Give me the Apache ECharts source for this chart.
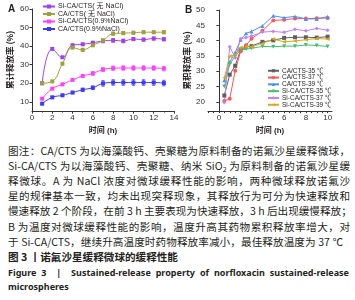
<!DOCTYPE html>
<html><head><meta charset="utf-8">
<script src="https://cdn.jsdelivr.net/npm/echarts@6/dist/echarts.min.js"></script>
<style>
html,body{margin:0;padding:0;background:#fff;width:355px;height:300px;overflow:hidden;}
#chart{position:absolute;left:0;top:0;width:355px;height:140px;}
.cap{position:absolute;left:8px;height:15px;line-height:15px;font-family:"Noto Sans CJK SC","Noto Sans",sans-serif;font-size:10.6px;color:#231f20;white-space:nowrap;text-align:justify;text-align-last:justify;}
.b{font-weight:bold;}
.en{font-family:"Noto Sans","Noto Sans CJK SC",sans-serif;font-weight:bold;font-size:9px;}
sub{font-size:7px;line-height:0;vertical-align:-2px;}
</style>
</head><body>
<div id="chart"></div>
<div class="cap" style="top:143px;width:342px;">图注：CA/CTS 为以海藻酸钙、壳聚糖为原料制备的诺氟沙星缓释微球，</div>
<div class="cap" style="top:158px;width:342px;">Si-CA/CTS 为以海藻酸钙、壳聚糖、纳米 SiO<sub>2</sub> 为原料制备的诺氟沙星缓</div>
<div class="cap" style="top:173px;width:342px;">释微球。A 为 NaCl 浓度对微球缓释性能的影响，两种微球释放诺氟沙</div>
<div class="cap" style="top:188px;width:342px;">星的规律基本一致，均未出现突释现象，其释放行为可分为快速释放和</div>
<div class="cap" style="top:203px;width:342px;">慢速释放 2 个阶段，在前 3 h 主要表现为快速释放，3 h 后出现缓慢释放；</div>
<div class="cap" style="top:219px;width:342px;">B 为温度对微球缓释性能的影响，温度升高其药物累积释放率增大，对</div>
<div class="cap" style="top:234px;width:335px;">于 Si-CA/CTS，继续升高温度时药物释放率减小，最佳释放温度为 37 ℃</div>
<div class="cap b" style="top:249px;text-align:left;text-align-last:left;">图 3 丨诺氟沙星缓释微球的缓释性能</div>
<div class="cap en" style="top:265px;width:341px;">Figure 3 &nbsp;|&nbsp; Sustained-release property of norfloxacin sustained-release</div>
<div class="cap en" style="top:279px;text-align:left;text-align-last:left;">microspheres</div>
<script>
// ---- Panel A data (NaCl) ----
var A_time = [1,2,3,4,5,6,7,8,9,10,11,12,13];
var A_names = ['Si-CA/CTS( 无 NaCl)','CA/CTS( 无 NaCl)','Si-CA/CTS(0.9%NaCl)','CA/CTS(0.9%NaCl)'];
var A_siNo = [20, 38.5, 34, 40.5, 41, 41.8, 42.8, 43.1, 42.8, 43.8, 43.5, 44.1, 43.7];
var A_caNo = [20, 21, 30.5, 39.2, 38, 40.5, 43, 46.7, 47, 47.2, 47.5, 47.5, 47.5];
var A_siNa = [11.7, 17.1, 19.4, 21.8, 23.9, 25.3, 27.4, 28.1, 28.2, 28.2, 28.2, 28.2, 27.9];
var A_caNa = [9, 12.4, 13.5, 15, 16.5, 17.6, 19.9, 20.4, 20.4, 20.4, 20.4, 20.4, 20.1];
var A_errSiNo = [0,0,0,0.5,0.5,0.8,1,1,1,0.8,0.8,0.8,0.8];
var A_errCaNo = [0,0,0,0,0.8,0.8,0.8,0.8,0.8,0.8,0.8,0.8,0.8];
var A_errSiNa = [0,0,0,0,0.8,1,1,1.2,1.2,1.2,1.2,1.2,1.2];
var A_errCaNa = [0.6,0.6,0.6,0.6,0.8,0.9,1.5,1.5,1.5,1.5,1.5,1.5,1.5];
var A_yTicks = [10,20,30,40,50,60];
var A_xTicks = [0,2,4,6,8,10,12,14];
// ---- Panel B data (temperature) ----
var B_time = [0.5,1,1.5,2,2.5,3,4,5,6,7,8,9,10];
var B_names = ['CA/CTS-35 ℃','CA/CTS-37 ℃','CA/CTS-39 ℃','Si-CA/CTS-35 ℃','Si-CA/CTS-37 ℃','Si-CA/CTS-39 ℃'];
var B_ca35 = [22.1, 28.9, 31.8, 37, 38, 38.2, 39.6, 40.1, 40.9, 41.1, 41.1, 41, 41.3];
var B_ca37 = [20.3, 21, 30.2, 36.5, 38.5, 40.6, 43.2, 46.6, 46.8, 47.2, 47.2, 47.3, 47.4];
var B_ca39 = [27.1, 33, 36.1, 40.3, 42.4, 43, 44.8, 48.1, 47.5, 47.9, 47.1, 47.1, 47.8];
var B_si35 = [25, 32.3, 34.9, 37, 37.2, 37.5, 38.1, 38, 38.2, 38.2, 38.6, 38.4, 38.1];
var B_si37 = [19.8, 38, 34.4, 40.6, 41, 41.5, 42.8, 43, 42.7, 43.7, 43.2, 44, 43.4];
var B_si39 = [27.9, 34.9, 35.4, 37.8, 38, 38, 39.1, 40.5, 39.6, 39.9, 40.3, 40.7, 40.5];
var B_yTicks = [20,25,30,35,40,45,50];
var B_xTicks = [0,2,4,6,8,10];
var B_minorX = [-1,-0.5,0,0.5,1,1.5,2,2.5,3,3.5,4,4.5,5,5.5,6,6.5,7,7.5,8,8.5,9,9.5,10];

var A_colors = ['#a040f0','#a0a03a','#ff40ff','#3a3aff'];
var B_colors = ['#606060','#ff5555','#4d8ef5','#45c070','#c080ff','#d8a820'];
var B_symbols = ['rect','circle','triangle','triangle','diamond','triangle'];
var B_rot = [0,0,0,180,0,90];

function pairs(xs, ys){ return xs.map(function(x,i){ return [x, ys[i]]; }); }
function errData(xs, ys, es){
  var out=[]; xs.forEach(function(x,i){ if(es[i]>0) out.push([x, ys[i]-es[i], ys[i]+es[i]]); }); return out;
}
function errSeries(xs, ys, es, color){
  return {type:'custom', xAxisIndex:0, yAxisIndex:0, silent:true, z:1,
    data: errData(xs, ys, es),
    renderItem: function(params, api){
      var x=api.value(0), p1=api.coord([x, api.value(1)]), p2=api.coord([x, api.value(2)]);
      var w=1.6, st={stroke:color, lineWidth:0.8};
      return {type:'group', children:[
        {type:'line', shape:{x1:p1[0],y1:p1[1],x2:p2[0],y2:p2[1]}, style:st},
        {type:'line', shape:{x1:p1[0]-w,y1:p1[1],x2:p1[0]+w,y2:p1[1]}, style:st},
        {type:'line', shape:{x1:p2[0]-w,y1:p2[1],x2:p2[0]+w,y2:p2[1]}, style:st}
      ]};
    }};
}

var A_vals = [A_siNo, A_caNo, A_siNa, A_caNa];
var A_errs = [A_errSiNo, A_errCaNo, A_errSiNa, A_errCaNa];
var B_vals = [B_ca35, B_ca37, B_ca39, B_si35, B_si37, B_si39];

var series = [];
A_vals.forEach(function(v,i){
  series.push({name:A_names[i], type:'line', xAxisIndex:0, yAxisIndex:0, smooth:0.45,
    data:pairs(A_time, v), symbol:'rect', symbolSize:4, z:3,
    itemStyle:{color:A_colors[i]}, lineStyle:{color:A_colors[i], width:1}});
  series.push(errSeries(A_time, v, A_errs[i], A_colors[i]));
});
B_vals.forEach(function(v,i){
  series.push({name:B_names[i], type:'line', xAxisIndex:1, yAxisIndex:1,
    data:pairs(B_time, v), symbol:B_symbols[i], symbolRotate:B_rot[i], symbolSize:4, z:3,
    itemStyle:{color:B_colors[i]}, lineStyle:{color:B_colors[i], width:1}});
});

var axisLineStyle = {lineStyle:{color:'#333', width:1}};
var font = 'Liberation Sans, Noto Sans CJK SC, sans-serif';
var chart = echarts.init(document.getElementById('chart'), null, {renderer:'canvas'});
chart.setOption({
  animation:false,
  textStyle:{fontFamily:font},
  grid:[{left:32, top:9, width:142, height:106},{left:208, top:10, width:124, height:105.6}],
  graphic:[
    {type:'text', left:8, top:4, style:{text:'A', font:'bold 10px Liberation Sans', fill:'#231f20'}},
    {type:'text', left:185, top:5, style:{text:'B', font:'bold 10px Liberation Sans', fill:'#231f20'}}
  ],
  legend:[
    {data:A_names, left:42, top:3, orient:'vertical', itemWidth:12, itemHeight:5, itemGap:0.5,
     textStyle:{fontSize:7, lineHeight:7, color:'#231f20', padding:[0,0,0,-2]}, padding:0},
    {data:B_names, left:267, top:67.5, orient:'vertical', itemWidth:11, itemHeight:4, itemGap:0.3,
     textStyle:{fontSize:6.5, lineHeight:6, color:'#231f20', padding:[0,0,0,-2]}, padding:0}
  ],
  xAxis:[
    {type:'value', gridIndex:0, min:0, max:14, interval:2, name:'时间 (h)', nameLocation:'middle', nameGap:9,
     nameTextStyle:{fontSize:8, fontWeight:'bold', color:'#231f20'},
     axisLine:axisLineStyle, axisTick:{show:true, length:2.5, lineStyle:{color:'#333'}},
     minorTick:{show:true, splitNumber:2, length:1.5, lineStyle:{color:'#333'}},
     splitLine:{show:false}, axisLabel:{fontSize:8, color:'#333', margin:3, showMaxLabel:true, customValues:A_xTicks}},
    {type:'value', gridIndex:1, min:-1, max:10.4, name:'时间 (h)', nameLocation:'middle', nameGap:9,
     nameTextStyle:{fontSize:8, fontWeight:'bold', color:'#231f20'},
     axisLine:axisLineStyle, axisTick:{show:true, length:2, customValues:B_minorX, lineStyle:{color:'#333'}},
     splitLine:{show:false}, axisLabel:{fontSize:8, color:'#333', margin:3, customValues:B_xTicks}}
  ],
  yAxis:[
    {type:'value', gridIndex:0, min:5, max:60, name:'累计释放率 (%)', nameLocation:'middle', nameGap:17,
     nameTextStyle:{fontSize:8.5, fontWeight:'bold', color:'#231f20'},
     axisLine:{show:true, lineStyle:{color:'#333'}}, axisTick:{show:true, length:2.5, customValues:A_yTicks, lineStyle:{color:'#333'}},
     splitLine:{show:false}, axisLabel:{fontSize:8, color:'#333', margin:3, customValues:A_yTicks}},
    {type:'value', gridIndex:1, min:17, max:50, name:'累积释放率 (%)', nameLocation:'middle', nameGap:14,
     nameTextStyle:{fontSize:8.5, fontWeight:'bold', color:'#231f20'},
     axisLine:{show:true, lineStyle:{color:'#333'}}, axisTick:{show:true, length:2.5, customValues:B_yTicks, lineStyle:{color:'#333'}},
     splitLine:{show:false}, axisLabel:{fontSize:8, color:'#333', margin:3, customValues:B_yTicks}}
  ],
  series:series
});
</script>
</body></html>
